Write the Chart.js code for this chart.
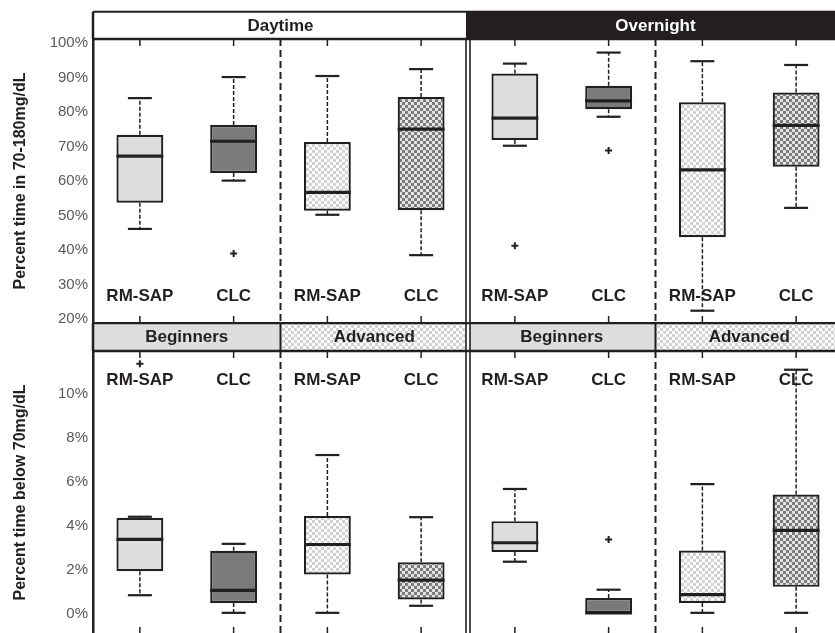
<!DOCTYPE html>
<html><head><meta charset="utf-8">
<script src="https://cdn.jsdelivr.net/npm/chart.js@4.4.1/dist/chart.umd.min.js"></script>
<style>
html,body{margin:0;padding:0;overflow:hidden;background:#fff;width:835px;height:633px;}
#c1{position:absolute;left:0;top:0;}
#c2{position:absolute;left:0;top:322px;}
</style></head><body>
<canvas id="c1" width="843" height="323"></canvas>
<canvas id="c2" width="843" height="312"></canvas>
<script>
// ---------- data ----------
const categories = ['RM-SAP','CLC','RM-SAP','CLC','RM-SAP','CLC','RM-SAP','CLC'];
const periods = ['Daytime','Overnight'];
const groups = ['Beginners','Advanced','Beginners','Advanced'];

// Percent time in 70-180 mg/dL
const tirLow     = [45.9, 59.9, 50.0, 38.3, 70.0, 78.4, 22.2, 52.0];
const tirQ1      = [53.5, 62.1, 51.2, 51.3, 71.7, 80.6, 43.5, 63.9];
const tirMedian  = [67.0, 71.3, 56.5, 74.8, 78.0, 83.0, 63.0, 75.9];
const tirQ3      = [73.2, 76.0, 71.1, 84.1, 90.9, 87.4, 82.6, 85.4];
const tirHigh    = [83.8, 89.9, 90.2, 92.2, 93.8, 97.0, 94.5, 93.4];
const tirOutliers= [null, 38.8, null, null, 41.0, 68.6, null, null];
const tirTicks   = [20, 30, 40, 50, 60, 70, 80, 90, 100];

// Percent time below 70 mg/dL
const hypoLow     = [0.80, 0.00, 0.00, 0.32, 2.32, 0.00, 0.00, 0.00];
const hypoQ1      = [1.89, 0.45, 1.74, 0.61, 2.76, 0.00, 0.45, 1.18];
const hypoMedian  = [3.33, 1.02, 3.10, 1.48, 3.18, 0.00, 0.83, 3.74];
const hypoQ3      = [4.31, 2.82, 4.39, 2.29, 4.16, 0.67, 2.83, 5.37];
const hypoHigh    = [4.36, 3.13, 7.16, 4.34, 5.62, 1.05, 5.84, 11.03];
const hypoOutliers= [11.3, null, null, null, null, 3.33, null, null];
const hypoTicks   = [0, 2, 4, 6, 8, 10];

// ---------- styles ----------
const INK = '#231f20';
const FONT = "'Liberation Sans', Arial, Helvetica, sans-serif";
const LIGHT = '#dcdddf';
const DARK = '#7a7a7a';

function checker(ctx, a, b, cell) {
  const c = document.createElement('canvas');
  c.width = c.height = cell * 2;
  const g = c.getContext('2d');
  g.fillStyle = a; g.fillRect(0, 0, cell * 2, cell * 2);
  g.fillStyle = b; g.fillRect(0, 0, cell, cell); g.fillRect(cell, cell, cell, cell);
  return ctx.createPattern(c, 'repeat');
}

function vline(ctx, x, y0, y1, w, dash) {
  ctx.save(); ctx.strokeStyle = INK; ctx.lineWidth = w; ctx.setLineDash(dash || []);
  ctx.beginPath(); ctx.moveTo(x, y0); ctx.lineTo(x, y1); ctx.stroke(); ctx.restore();
}
function hline(ctx, x0, x1, y, w) {
  ctx.save(); ctx.strokeStyle = INK; ctx.lineWidth = w;
  ctx.beginPath(); ctx.moveTo(x0, y); ctx.lineTo(x1, y); ctx.stroke(); ctx.restore();
}

const decor = {
  id: 'boxDecor',
  beforeDatasetsDraw(chart, args, o) {
    const ctx = chart.ctx, xs = chart.scales.x, ys = chart.scales.y, a = chart.chartArea;
    [1.5, 5.5].forEach(v => vline(ctx, xs.getPixelForValue(v), a.top, a.bottom, 2, [7, 4]));
    ctx.save();
    ctx.fillStyle = INK; ctx.font = 'bold 17px ' + FONT;
    ctx.textAlign = 'center'; ctx.textBaseline = 'middle';
    const ly = ys.getPixelForValue(o.labelValue);
    categories.forEach((c, i) => ctx.fillText(c, xs.getPixelForValue(i), ly));
    ctx.restore();
  },
  afterDatasetsDraw(chart, args, o) {
    const ctx = chart.ctx, xs = chart.scales.x, ys = chart.scales.y, a = chart.chartArea;
    const meta = chart.getDatasetMeta(0);
    categories.forEach((c, i) => {
      const x = xs.getPixelForValue(i);
      const el = meta.data[i];
      const hw = el.width / 2;
      const pLow = ys.getPixelForValue(o.low[i]), pQ1 = ys.getPixelForValue(o.q1[i]);
      const pHigh = ys.getPixelForValue(o.high[i]), pQ3 = ys.getPixelForValue(o.q3[i]);
      vline(ctx, x, pQ3, pHigh, 1.5, [4, 2]);
      vline(ctx, x, pQ1, pLow, 1.5, [4, 2]);
      hline(ctx, x - 12, x + 12, pHigh, 2.2);
      hline(ctx, x - 12, x + 12, pLow, 2.2);
      hline(ctx, x - hw, x + hw, ys.getPixelForValue(o.median[i]), 3.2);
    });
    const mid = xs.getPixelForValue(3.5);
    ctx.save(); ctx.fillStyle = '#fff'; ctx.fillRect(mid - 2, a.top, 4, a.bottom - a.top); ctx.restore();
    vline(ctx, mid - 2, o.bandTop, a.bottom, 1.6);
    vline(ctx, mid + 2, o.bandTop, a.bottom, 1.6);
    categories.forEach((c, i) => {
      const x = xs.getPixelForValue(i);
      vline(ctx, x, a.top, a.top + 7, 1.5);
      vline(ctx, x, a.bottom - 7, a.bottom, 1.5);
    });
  },
  afterDraw(chart, args, o) {
    const ctx = chart.ctx, xs = chart.scales.x, a = chart.chartArea;
    const L = xs.getPixelForValue(-0.5), mid = xs.getPixelForValue(3.5), R = xs.getPixelForValue(7.5);
    const top = o.bandTop, bot = a.top;
    ctx.save();
    ctx.textAlign = 'center'; ctx.textBaseline = 'middle'; ctx.font = 'bold 17px ' + FONT;
    const cy = (top + bot) / 2 + 0.5;
    if (o.kind === 'period') {
      ctx.fillStyle = '#fff'; ctx.fillRect(L, top, mid - 2 - L, bot - top);
      ctx.fillStyle = INK; ctx.fillRect(mid - 2, top - 1, R - mid + 2, bot - top + 1);
      hline(ctx, L, mid - 2, top, 2);
      hline(ctx, L, R, bot, 2.5);
      vline(ctx, L, top, bot, 2.5);
      ctx.fillStyle = INK; ctx.fillText(periods[0], (L + mid) / 2, cy);
      ctx.fillStyle = '#fff'; ctx.fillText(periods[1], (mid + R) / 2, cy);
    } else {
      const edges = [-0.5, 1.5, 3.5, 5.5, 7.5].map(v => xs.getPixelForValue(v));
      const fills = [LIGHT, o.patLight, LIGHT, o.patLight];
      for (let g = 0; g < 4; g++) {
        const x0 = edges[g] + (g === 2 ? 2 : 0);
        const x1 = edges[g + 1] - (g === 1 ? 2 : 0);
        ctx.fillStyle = fills[g]; ctx.fillRect(x0, top, x1 - x0, bot - top);
        ctx.fillStyle = INK; ctx.fillText(groups[g], (edges[g] + edges[g + 1]) / 2, cy);
      }
      ctx.fillStyle = '#fff'; ctx.fillRect(mid - 2, top, 4, bot - top);
      hline(ctx, L, R, top, 2.5);
      hline(ctx, L, R, bot, 2.5);
      vline(ctx, L, top, bot, 2.5);
      vline(ctx, edges[1], top, bot, 2);
      vline(ctx, edges[3], top, bot, 2);
      vline(ctx, mid - 2, top, bot, 1.6);
      vline(ctx, mid + 2, top, bot, 1.6);
    }
    ctx.restore();
  }
};

function build(id, cfg) {
  const ctx = document.getElementById(id).getContext('2d');
  const patLight = checker(ctx, '#ffffff', '#d2d2d2', 3);
  const patDark = checker(ctx, '#e4e4e4', '#7c7c7c', 3);
  const fills = [LIGHT, DARK, patLight, patDark];
  return new Chart(ctx, {
    type: 'bar',
    data: {
      labels: categories,
      datasets: [
        {
          type: 'bar',
          data: cfg.q1.map((v, i) => [v, cfg.q3[i]]),
          backgroundColor: categories.map((c, i) => fills[i % 4]),
          borderColor: INK, borderWidth: 2.2, borderSkipped: false,
          categoryPercentage: 1, barPercentage: 0.5, order: 2
        },
        {
          type: 'line', data: cfg.outliers, showLine: false,
          pointStyle: 'cross', pointRadius: 3.5, pointBorderWidth: 2,
          borderColor: INK, backgroundColor: INK, order: 1
        }
      ]
    },
    options: {
      responsive: false, animation: false, events: [],
      layout: { autoPadding: false, padding: { top: cfg.padTop, left: 0, right: 0, bottom: 0 } },
      plugins: {
        legend: { display: false }, tooltip: { enabled: false },
        boxDecor: Object.assign({ patLight }, cfg)
      },
      scales: {
        x: { display: false, offset: true, grid: { display: false } },
        y: {
          min: cfg.min, max: cfg.max,
          afterBuildTicks: s => { s.ticks = cfg.ticks.map(v => ({ value: v })); },
          afterFit: s => { s.width = 93; s.paddingTop = 0; s.paddingBottom = 0; },
          ticks: { callback: v => v + '%', color: '#5a5a5a', font: { family: FONT, size: 15 }, padding: 5, labelOffset: 1 },
          grid: { display: false, drawTicks: false },
          border: { display: true, color: INK, width: 2.5 },
          title: { display: true, text: cfg.title, color: INK, font: { family: FONT, size: 16, weight: 'bold' }, padding: { top: 11, bottom: 0 } }
        }
      }
    },
    plugins: [decor]
  });
}

build('c1', {
  kind: 'period', padTop: 39, bandTop: 11.7, min: 18.64, max: 100.93, ticks: tirTicks,
  title: 'Percent time in 70-180mg/dL', labelValue: 26.25,
  low: tirLow, q1: tirQ1, median: tirMedian, q3: tirQ3, high: tirHigh, outliers: tirOutliers
});
build('c2', {
  kind: 'group', padTop: 29, bandTop: 1, min: -0.96, max: 11.88, ticks: hypoTicks,
  title: 'Percent time below 70mg/dL', labelValue: 10.54,
  low: hypoLow, q1: hypoQ1, median: hypoMedian, q3: hypoQ3, high: hypoHigh, outliers: hypoOutliers
});
</script>
</body></html>
